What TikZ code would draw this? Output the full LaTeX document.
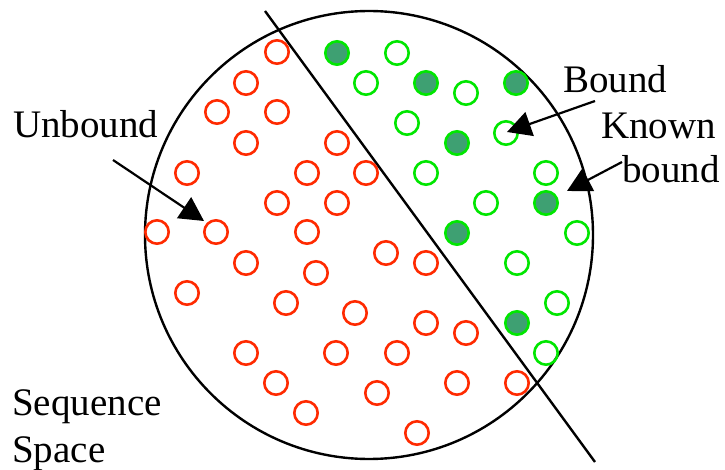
\documentclass[tikz,border=0pt]{standalone}
\usepackage{fontspec}
\setmainfont{Liberation Serif}
\usepackage{tikz}
\usetikzlibrary{arrows.meta}

\definecolor{unbred}{RGB}{255,42,0}
\definecolor{bndgreen}{RGB}{0,230,0}
\definecolor{knownfill}{RGB}{62,160,114}

\begin{document}
\begin{tikzpicture}[x=1pt, y=-1pt,
  seq/.style={circle, draw=unbred, line width=2.6pt, minimum size=23.4pt, inner sep=0pt},
  bnd/.style={circle, draw=bndgreen, line width=2.6pt, minimum size=23.4pt, inner sep=0pt},
  kbnd/.style={bnd, fill=knownfill},
  lbl/.style={anchor=base west, inner sep=0pt, font=\fontsize{39}{40}\selectfont},
  arr/.style={-{Triangle[length=24pt, width=25pt]}, line width=2.2pt}
]
\useasboundingbox (0,0) rectangle (725,470);
\node[circle, draw, line width=2.4pt, minimum size=448pt, inner sep=0pt] (space) at (369,235) {};
\coordinate (cutA) at (265,11);
\coordinate (cutB) at (595,462);
\draw[line width=2.4pt] (cutA) -- (cutB);

\foreach \x/\y [count=\i] in {277/52, 246/83, 217/112, 277/112, 246/143, 337/143, 187/173, 307/173,
  366/173, 277/203, 337/203, 157/232, 216/232, 307/232, 246/263, 316/273, 386/253, 426/263,
  187/293, 286/303, 355/313, 426/323, 466/333, 246/353, 336/353, 397/353, 276/383, 377/393,
  457/383, 517/383, 306/413, 417/433}
  \node[seq] (u\i) at (\x,\y) {};
\foreach \x/\y [count=\i] in {397/53, 366/83, 466/93, 407/123, 506/133, 426/173, 546/173,
  486/203, 577/233, 517/263, 557/303, 546/353}
  \node[bnd] (b\i) at (\x,\y) {};
\foreach \x/\y [count=\i] in {337/53, 426/83, 516/83, 457/143, 546/203, 457/233, 517/323}
  \node[kbnd] (k\i) at (\x,\y) {};

\node[lbl] (unbound) at (13,138) {Unbound};
\node[lbl] (bound) at (563,93) {Bound};
\node[lbl] (known) at (601,139) {Known};
\node[lbl] (knownb) at (622,183) {bound};
\node[lbl] (seqsp) at (12,415) {Sequence};
\node[lbl] (seqsp2) at (12,462) {Space};

\coordinate (ubfrom) at (113,160);
\coordinate (ubto) at (204,221);
\coordinate (bfrom) at (595,101);
\coordinate (bto) at (507,132);
\coordinate (kfrom) at (622,162);
\coordinate (kto) at (567,191);
\draw[arr] (ubfrom) -- (ubto);
\draw[arr] (bfrom) -- (bto);
\draw[arr] (kfrom) -- (kto);
\end{tikzpicture}
\end{document}
